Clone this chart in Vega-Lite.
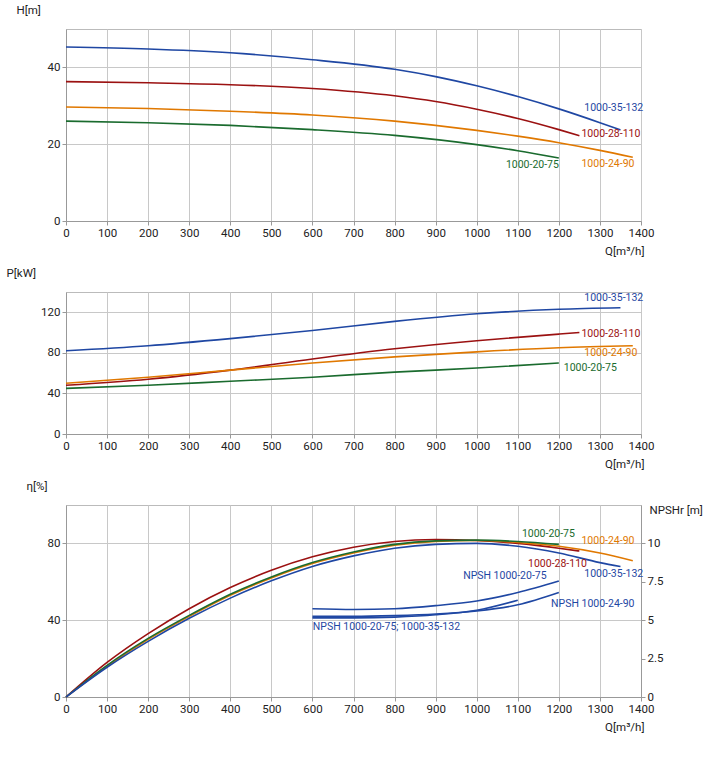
{
"$schema":"https://vega.github.io/schema/vega-lite/v6.json",
"background":"white",
"padding":{"left":5,"top":3,"right":5,"bottom":2},
"config":{"font":"Roboto","view":{"stroke":"#bbb"},"axis":{"labelFont":"Roboto","titleFont":"Roboto","labelFontSize":11.5,"titleFontSize":11.5,"titleFontWeight":"normal","labelColor":"#222","titleColor":"#222","gridColor":"#c8c8c8","domainColor":"#999","tickColor":"#999","tickSize":4,"labelOverlap":false,"labelFlush":false}},
"datasets":{
"H":[
{"s":"1000-35-132","q":0,"v":45.3},{"s":"1000-35-132","q":200,"v":44.8},{"s":"1000-35-132","q":400,"v":43.8},{"s":"1000-35-132","q":600,"v":42},{"s":"1000-35-132","q":800,"v":39.5},{"s":"1000-35-132","q":900,"v":37.6},{"s":"1000-35-132","q":1000,"v":35.2},{"s":"1000-35-132","q":1100,"v":32.4},{"s":"1000-35-132","q":1200,"v":29.2},{"s":"1000-35-132","q":1300,"v":25.6},{"s":"1000-35-132","q":1350,"v":23.7},
{"s":"1000-28-110","q":0,"v":36.3},{"s":"1000-28-110","q":200,"v":36},{"s":"1000-28-110","q":400,"v":35.5},{"s":"1000-28-110","q":600,"v":34.5},{"s":"1000-28-110","q":800,"v":32.6},{"s":"1000-28-110","q":900,"v":31.1},{"s":"1000-28-110","q":1000,"v":29.1},{"s":"1000-28-110","q":1100,"v":26.7},{"s":"1000-28-110","q":1200,"v":23.8},{"s":"1000-28-110","q":1250,"v":22.2},
{"s":"1000-24-90","q":0,"v":29.7},{"s":"1000-24-90","q":200,"v":29.3},{"s":"1000-24-90","q":400,"v":28.6},{"s":"1000-24-90","q":600,"v":27.6},{"s":"1000-24-90","q":800,"v":26},{"s":"1000-24-90","q":1000,"v":23.6},{"s":"1000-24-90","q":1100,"v":22.1},{"s":"1000-24-90","q":1200,"v":20.4},{"s":"1000-24-90","q":1300,"v":18.4},{"s":"1000-24-90","q":1380,"v":16.6},
{"s":"1000-20-75","q":0,"v":26},{"s":"1000-20-75","q":200,"v":25.6},{"s":"1000-20-75","q":400,"v":24.9},{"s":"1000-20-75","q":600,"v":23.8},{"s":"1000-20-75","q":800,"v":22.3},{"s":"1000-20-75","q":1000,"v":19.9},{"s":"1000-20-75","q":1100,"v":18.3},{"s":"1000-20-75","q":1200,"v":16.4}],
"HL":[{"s":"1000-35-132","q":1262,"v":29.5,"t":"1000-35-132"},{"s":"1000-28-110","q":1255,"v":22.6,"t":"1000-28-110"},{"s":"1000-24-90","q":1255,"v":14.9,"t":"1000-24-90"},{"s":"1000-20-75","q":1071,"v":14.7,"t":"1000-20-75"}],
"P":[
{"s":"1000-35-132","q":0,"v":82},{"s":"1000-35-132","q":200,"v":87},{"s":"1000-35-132","q":400,"v":94},{"s":"1000-35-132","q":600,"v":102},{"s":"1000-35-132","q":800,"v":111},{"s":"1000-35-132","q":1000,"v":118.5},{"s":"1000-35-132","q":1200,"v":123},{"s":"1000-35-132","q":1350,"v":124.5},
{"s":"1000-28-110","q":0,"v":48},{"s":"1000-28-110","q":200,"v":54},{"s":"1000-28-110","q":400,"v":63},{"s":"1000-28-110","q":600,"v":74},{"s":"1000-28-110","q":800,"v":84},{"s":"1000-28-110","q":1000,"v":92},{"s":"1000-28-110","q":1200,"v":98.5},{"s":"1000-28-110","q":1250,"v":100},
{"s":"1000-24-90","q":0,"v":50},{"s":"1000-24-90","q":200,"v":56},{"s":"1000-24-90","q":400,"v":63},{"s":"1000-24-90","q":600,"v":70},{"s":"1000-24-90","q":800,"v":76},{"s":"1000-24-90","q":1000,"v":81},{"s":"1000-24-90","q":1200,"v":85},{"s":"1000-24-90","q":1380,"v":87},
{"s":"1000-20-75","q":0,"v":45},{"s":"1000-20-75","q":200,"v":48},{"s":"1000-20-75","q":400,"v":52},{"s":"1000-20-75","q":600,"v":56},{"s":"1000-20-75","q":800,"v":61},{"s":"1000-20-75","q":1000,"v":65},{"s":"1000-20-75","q":1200,"v":70}],
"PL":[{"s":"1000-35-132","q":1262,"v":134,"t":"1000-35-132"},{"s":"1000-28-110","q":1255,"v":98.6,"t":"1000-28-110"},{"s":"1000-24-90","q":1262,"v":80,"t":"1000-24-90"},{"s":"1000-20-75","q":1212,"v":65,"t":"1000-20-75"}],
"E":[
{"s":"1000-28-110","q":0,"v":0},{"s":"1000-28-110","q":100,"v":18},{"s":"1000-28-110","q":200,"v":33},{"s":"1000-28-110","q":300,"v":46},{"s":"1000-28-110","q":400,"v":57},{"s":"1000-28-110","q":500,"v":66},{"s":"1000-28-110","q":600,"v":73},{"s":"1000-28-110","q":700,"v":78},{"s":"1000-28-110","q":800,"v":81},{"s":"1000-28-110","q":900,"v":82},{"s":"1000-28-110","q":1000,"v":81.5},{"s":"1000-28-110","q":1100,"v":80},{"s":"1000-28-110","q":1200,"v":77.5},{"s":"1000-28-110","q":1250,"v":76},
{"s":"1000-24-90","q":0,"v":0},{"s":"1000-24-90","q":100,"v":16},{"s":"1000-24-90","q":200,"v":30},{"s":"1000-24-90","q":300,"v":42},{"s":"1000-24-90","q":400,"v":53},{"s":"1000-24-90","q":500,"v":62},{"s":"1000-24-90","q":600,"v":69.5},{"s":"1000-24-90","q":700,"v":75},{"s":"1000-24-90","q":800,"v":79},{"s":"1000-24-90","q":900,"v":81},{"s":"1000-24-90","q":1000,"v":81.5},{"s":"1000-24-90","q":1100,"v":80.5},{"s":"1000-24-90","q":1200,"v":78.5},{"s":"1000-24-90","q":1300,"v":75},{"s":"1000-24-90","q":1380,"v":71},
{"s":"1000-20-75","q":0,"v":0},{"s":"1000-20-75","q":100,"v":16.5},{"s":"1000-20-75","q":200,"v":30.5},{"s":"1000-20-75","q":300,"v":42.5},{"s":"1000-20-75","q":400,"v":53.5},{"s":"1000-20-75","q":500,"v":62.5},{"s":"1000-20-75","q":600,"v":70},{"s":"1000-20-75","q":700,"v":75.5},{"s":"1000-20-75","q":800,"v":79.5},{"s":"1000-20-75","q":900,"v":81.3},{"s":"1000-20-75","q":1000,"v":81.7},{"s":"1000-20-75","q":1100,"v":81},{"s":"1000-20-75","q":1200,"v":79.5},
{"s":"1000-35-132","q":0,"v":0},{"s":"1000-35-132","q":100,"v":15.5},{"s":"1000-35-132","q":200,"v":29},{"s":"1000-35-132","q":300,"v":41},{"s":"1000-35-132","q":400,"v":51.5},{"s":"1000-35-132","q":500,"v":60.5},{"s":"1000-35-132","q":600,"v":68},{"s":"1000-35-132","q":700,"v":73.5},{"s":"1000-35-132","q":800,"v":77.5},{"s":"1000-35-132","q":900,"v":79.5},{"s":"1000-35-132","q":1000,"v":80},{"s":"1000-35-132","q":1100,"v":78.5},{"s":"1000-35-132","q":1200,"v":75},{"s":"1000-35-132","q":1300,"v":70},{"s":"1000-35-132","q":1350,"v":68}],
"N":[
{"s":"a","q":600,"v":5.75},{"s":"a","q":700,"v":5.7},{"s":"a","q":800,"v":5.75},{"s":"a","q":900,"v":5.95},{"s":"a","q":1000,"v":6.25},{"s":"a","q":1100,"v":6.8},{"s":"a","q":1200,"v":7.55},
{"s":"b","q":600,"v":5.25},{"s":"b","q":700,"v":5.25},{"s":"b","q":800,"v":5.3},{"s":"b","q":900,"v":5.4},{"s":"b","q":1000,"v":5.6},{"s":"b","q":1100,"v":6.0},{"s":"b","q":1200,"v":6.8},
{"s":"c","q":600,"v":5.15},{"s":"c","q":700,"v":5.15},{"s":"c","q":800,"v":5.2},{"s":"c","q":900,"v":5.35},{"s":"c","q":1000,"v":5.65},{"s":"c","q":1100,"v":6.3}],
"EL":[{"s":"1000-20-75","q":1110,"v":85,"t":"1000-20-75"},{"s":"1000-24-90","q":1255,"v":81,"t":"1000-24-90"},{"s":"1000-28-110","q":1125,"v":69.3,"t":"1000-28-110"},{"s":"1000-35-132","q":1262,"v":64,"t":"1000-35-132"},{"s":"1000-35-132","q":967,"v":63,"t":"NPSH 1000-20-75"},{"s":"1000-35-132","q":1181,"v":48.4,"t":"NPSH 1000-24-90"},{"s":"1000-35-132","q":601,"v":36.5,"t":"NPSH 1000-20-75; 1000-35-132"}]
},
"vconcat":[
{"width":575,"height":192,"layer":[
{"data":{"name":"H"},"mark":{"type":"line","strokeWidth":1.6,"interpolate":"monotone"},"encoding":{"x":{"field":"q","type":"quantitative","scale":{"domain":[0,1400],"nice":false},"axis":{"values":[0,100,200,300,400,500,600,700,800,900,1000,1100,1200,1300,1400],"format":"d","title":"Q[m³/h]","titleAnchor":"end","titleAlign":"right","titleX":578,"titleY":24}},"y":{"field":"v","type":"quantitative","scale":{"domain":[0,50]},"axis":{"values":[0,5,10,15,20,25,30,35,40,45,50],"title":"H[m]","titleAngle":0,"titleAlign":"left","titleX":-50,"titleY":-14}},"color":{"field":"s","type":"nominal","legend":null,"scale":{"domain":["1000-35-132","1000-28-110","1000-24-90","1000-20-75"],"range":["#1f47a3","#9b1111","#e07800","#1a6b2e"]}},"detail":{"field":"s"}}},
{"data":{"name":"HL"},"mark":{"type":"text","align":"left","baseline":"middle","fontSize":10.5},"encoding":{"x":{"field":"q","type":"quantitative"},"y":{"field":"v","type":"quantitative"},"text":{"field":"t"},"color":{"field":"s","type":"nominal","legend":null}}}]},
{"width":575,"height":142,"layer":[
{"data":{"name":"P"},"mark":{"type":"line","strokeWidth":1.6,"interpolate":"monotone"},"encoding":{"x":{"field":"q","type":"quantitative","scale":{"domain":[0,1400],"nice":false},"axis":{"values":[0,100,200,300,400,500,600,700,800,900,1000,1100,1200,1300,1400],"format":"d","title":"Q[m³/h]","titleAnchor":"end","titleAlign":"right","titleX":578,"titleY":24}},"y":{"field":"v","type":"quantitative","scale":{"domain":[0,140]},"axis":{"values":[0,20,40,60,80,100,120,140],"title":"P[kW]","titleAngle":0,"titleAlign":"left","titleX":-60,"titleY":-14}},"color":{"field":"s","type":"nominal","legend":null,"scale":{"domain":["1000-35-132","1000-28-110","1000-24-90","1000-20-75"],"range":["#1f47a3","#9b1111","#e07800","#1a6b2e"]}}}},
{"data":{"name":"PL"},"mark":{"type":"text","align":"left","baseline":"middle","fontSize":10.5},"encoding":{"x":{"field":"q","type":"quantitative"},"y":{"field":"v","type":"quantitative"},"text":{"field":"t"},"color":{"field":"s","type":"nominal","legend":null}}}]},
{"width":575,"height":192,"resolve":{"scale":{"y":"independent"}},"layer":[
{"layer":[
{"data":{"name":"E"},"mark":{"type":"line","strokeWidth":1.6,"interpolate":"monotone"},"encoding":{"x":{"field":"q","type":"quantitative","scale":{"domain":[0,1400],"nice":false},"axis":{"values":[0,100,200,300,400,500,600,700,800,900,1000,1100,1200,1300,1400],"format":"d","title":"Q[m³/h]","titleAnchor":"end","titleAlign":"right","titleX":578,"titleY":24}},"y":{"field":"v","type":"quantitative","scale":{"domain":[0,100]},"axis":{"values":[0,20,40,60,80,100],"title":"η[%]","titleAngle":0,"titleAlign":"left","titleX":-40,"titleY":-14}},"color":{"field":"s","type":"nominal","legend":null,"scale":{"domain":["1000-35-132","1000-28-110","1000-24-90","1000-20-75"],"range":["#1f47a3","#9b1111","#e07800","#1a6b2e"]}}}},
{"data":{"name":"EL"},"mark":{"type":"text","align":"left","baseline":"middle","fontSize":10.5},"encoding":{"x":{"field":"q","type":"quantitative"},"y":{"field":"v","type":"quantitative"},"text":{"field":"t"},"color":{"field":"s","type":"nominal","legend":null}}}]},
{"data":{"name":"N"},"mark":{"type":"line","strokeWidth":1.6,"color":"#1f47a3","interpolate":"monotone"},"encoding":{"x":{"field":"q","type":"quantitative"},"y":{"field":"v","type":"quantitative","scale":{"domain":[0,12.5],"nice":false},"axis":{"orient":"right","values":[0,2.5,5,7.5,10],"format":"~g","grid":false,"title":"NPSHr [m]","titleAngle":0,"titleAlign":"left","titleX":8,"titleY":10}},"detail":{"field":"s"}}}]}
],
"spacing":9
}
